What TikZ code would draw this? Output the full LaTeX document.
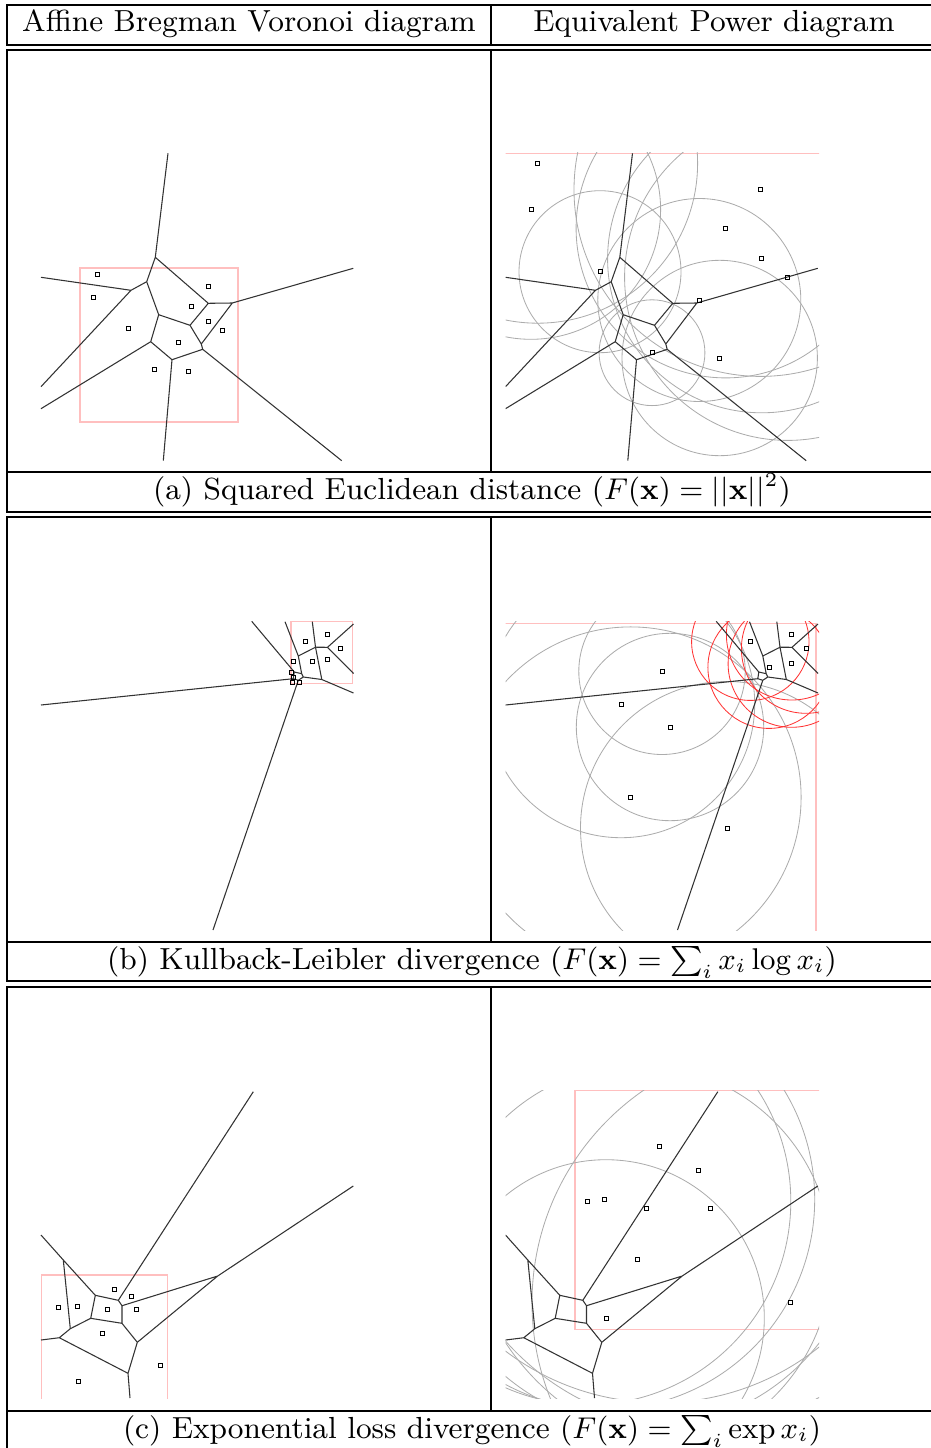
\documentclass[tikz,border=0pt]{standalone}
\usepackage{amsmath}

% cell edges, drawn once for each column
\newcommand\cellsA{%
  \draw[vedge] (168,153.3) -- (155.3,257.3) -- (146.7,281.7) -- (131,290.3) -- (41,277.3)
    (131,290.3) -- (41,386.7)
    (146.7,281.7) -- (158.7,314.7) -- (150.7,341.7) -- (41,408.7)
    (155.3,257.3) -- (208.3,303.3) -- (232.3,303) -- (353.3,268.3)
    (158.7,314.7) -- (190,325.3) -- (208.3,303.3)
    (190,325.3) -- (201.3,344) -- (202.7,349.3) -- (341.7,460.7)
    (232.3,303) -- (201.3,344)
    (150.7,341.7) -- (172,359.7) -- (202.7,349.3)
    (172,359.7) -- (163.3,460.7);}
\newcommand\cellsB{%
  \draw[vedge] (294.3,672) -- (301.7,673.7) -- (303.3,677) -- (298.3,680.3) -- (293.3,678.7) -- cycle
    (294.3,672) -- (251.7,621.3)
    (293.3,678.7) -- (41,705)
    (298.3,680.3) -- (213,930)
    (301.7,673.7) -- (298.3,656) -- (285,621.7)
    (298.3,656) -- (315.5,647.2) -- (312.3,621.7)
    (315.5,647.2) -- (327.5,647.3) -- (353.5,624)
    (327.5,647.3) -- (353.5,673.5)
    (315.5,647.2) -- (321.8,679.5) -- (353.5,693)
    (303.3,677) -- (321.8,679.5);}
\newcommand\cellsC{%
  \draw[vedge] (41,1235) -- (63.3,1260) -- (95.3,1295.3) -- (118.3,1300.3) -- (253.3,1091.7)
    (63.3,1260) -- (70.3,1328.7) -- (59.3,1337.7) -- (41,1340)
    (95.3,1295.3) -- (90.7,1318.3) -- (70.3,1328.7)
    (118.3,1300.3) -- (122,1305.7) -- (122,1323.3) -- (90.7,1318.3)
    (122,1305.7) -- (217.7,1276) -- (353.3,1186)
    (59.3,1337.7) -- (128,1373.3) -- (130,1398)
    (122,1323.3) -- (137.3,1342.3) -- (128,1373.3)
    (137.3,1342.3) -- (217.7,1276);}

\begin{document}
\begin{tikzpicture}[x=0.3pt,y=-0.3pt,
    vedge/.style={black!80,line width=0.32pt,line join=round},
    pcirc/.style={gray!65,line width=0.25pt},
    rcirc/.style={red!80,line width=0.25pt},
    dom/.style={red!25,line width=0.35pt},
    site/.style={black,line width=0.25pt},
    tabrule/.style={line width=0.4pt},
    lbl/.style={anchor=base,inner sep=0pt,font=\fontsize{9.15}{11}\selectfont}]
  \useasboundingbox (0,0) rectangle (930,1448);

  % table
  \draw[tabrule] (7,5) rectangle (937,45) (491,5) -- (491,45);
  \draw[tabrule] (7,50) rectangle (937,512) (7,472) -- (937,472) (491,50) -- (491,472);
  \draw[tabrule] (7,517) rectangle (937,981) (7,942) -- (937,942) (491,517) -- (491,942);
  \draw[tabrule] (7,987) rectangle (937,1460) (7,1411) -- (937,1411) (491,987) -- (491,1411);
  \node[lbl] (hdleft) at (249,32) {Affine Bregman Voronoi diagram};
  \node[lbl] (hdright) at (714,32) {Equivalent Power diagram};

  % (a) squared Euclidean
  \begin{scope}
    \clip (40.5,153) rectangle (354.5,461);
    \draw[dom] (80,268) rectangle (238,422);
    \cellsA
    \foreach \p in {(97.3,274),(93.7,297),(208.7,286.7),(191.3,306.3),(208.7,321),
                    (222,330.3),(128.3,328),(178,342),(154.3,369),(188,371)}
      \draw[site] \p +(-2,-2) rectangle +(2,2);
  \end{scope}
  \begin{scope}
    \clip (505.5,153) rectangle (819,461);
    \draw[dom] (504,153.8) rectangle (822,463);
    \foreach \cx/\cy/\r in {537.7/163.3/159.9,531/209.7/129.6,760.7/189.7/186.7,
        725.7/228.3/149.6,761.7/258.7/154.1,787.7/277.3/163.1,600/271.7/81,
        699.3/300/101.5,652/352.7/52.9,719.7/358/97.7}
      \draw[pcirc] (\cx,\cy) circle[radius=\r];
    \begin{scope}[shift={(464.5,0)}]
      \cellsA
    \end{scope}
    \foreach \p in {(537.7,163.3),(531,209.7),(760.7,189.7),(725.7,228.3),(761.7,258.7),
                    (787.7,277.3),(600,271.7),(699.3,300),(652,352.7),(719.7,358)}
      \draw[site] \p +(-2,-2) rectangle +(2,2);
  \end{scope}
  \node[lbl] (capa) at (472,499) {(a) Squared Euclidean distance ($F(\mathbf{x})=||\mathbf{x}||^2$)};

  % (b) Kullback-Leibler
  \begin{scope}
    \clip (40.5,621) rectangle (354.5,930);
    \draw[dom] (291,621.7) rectangle (352.6,683.3);
    \cellsB
    \foreach \p in {(305.3,641.7),(327.3,634),(340.3,648.7),(312.7,661.3),(327.3,659.3),
                    (293,661.4),(291.8,672.7),(293.4,677),(292,682),(299.5,682.6)}
      \draw[site] \p +(-2,-2) rectangle +(2,2);
  \end{scope}
  \begin{scope}
    \clip (505.5,621) rectangle (819,930);
    \draw[dom] (500,623.3) rectangle (816,935);
    \foreach \cx/\cy/\r in {662/671.3/83.2,621/704/133.7,670/727/93.7,
        630.7/797.3/170.4,727/828/146.5}
      \draw[pcirc] (\cx,\cy) circle[radius=\r];
    \foreach \cx/\cy/\r in {750.3/641.7/58.7,791.7/634.7/65.3,806/648.7/64.6,
        769/667.3/61.1,791.7/663.7/63.6}
      \draw[rcirc] (\cx,\cy) circle[radius=\r];
    \begin{scope}[shift={(464.5,0)}]
      \cellsB
    \end{scope}
    \foreach \p in {(750.3,641.7),(791.7,634.7),(806,648.7),(769,667.3),(791.7,663.7),
                    (662,671.3),(621,704),(670,727),(630.7,797.3),(727,828)}
      \draw[site] \p +(-2,-2) rectangle +(2,2);
  \end{scope}
  \node[lbl] (capb) at (472,969) {(b) Kullback-Leibler divergence ($F(\mathbf{x})=\sum_i x_i\log x_i$)};

  % (c) exponential loss
  \begin{scope}
    \clip (40.5,1090) rectangle (354.5,1398);
    \draw[dom] (41.3,1275) rectangle (167.3,1401);
    \cellsC
    \foreach \p in {(114,1289.3),(131.3,1296.7),(58.7,1307),(77.3,1306.3),(107,1309.7),
                    (136,1309.3),(102.3,1333.7),(160.7,1365.3),(78.3,1381.7)}
      \draw[site] \p +(-2,-2) rectangle +(2,2);
  \end{scope}
  \begin{scope}
    \clip (505.5,1090) rectangle (819,1398);
    \draw[dom] (575,1090.3) rectangle (822,1329.3);
    \foreach \cx/\cy/\r in {587.3/1201.3/203.5,604.7/1199.3/210,606/1318/158.3,
        637.7/1259/193.7,646.3/1208.7/218.9,659.7/1146.7/256,698/1170.7/257,
        710/1208/244.8,790/1302.7/258}
      \draw[pcirc] (\cx,\cy) circle[radius=\r];
    \begin{scope}[shift={(464.5,0)}]
      \cellsC
    \end{scope}
    \foreach \p in {(659.7,1146.7),(698,1170.7),(587.3,1201.3),(604.7,1199.3),(646.3,1208.7),
                    (710,1208),(637.7,1259),(790,1302.7),(606,1318)}
      \draw[site] \p +(-2,-2) rectangle +(2,2);
  \end{scope}
  \node[lbl] (capc) at (472,1438) {(c) Exponential loss divergence ($F(\mathbf{x})=\sum_i \exp x_i$)};
\end{tikzpicture}
\end{document}
